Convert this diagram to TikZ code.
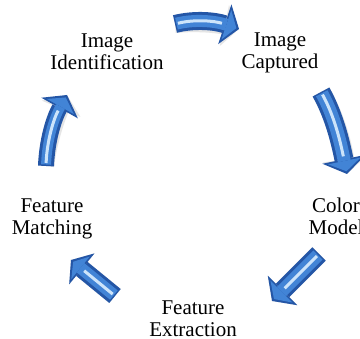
\documentclass[tikz,border=0pt]{standalone}
\usepackage{fontspec}
\setmainfont{Liberation Serif}
\usetikzlibrary{arrows.meta}
\definecolor{edgeblue}{RGB}{36,86,166}
\definecolor{midblue}{RGB}{66,132,214}
\definecolor{hiblue}{RGB}{205,228,250}
\newcommand{\bluearrow}[4]{% #1 shaft width, #2 head width, #3 head length, #4 path
  \pgfmathsetmacro\innershaft{#1-6}%
  \pgfmathsetmacro\innerhw{#2-11}%
  \pgfmathsetmacro\innerhl{#3-4.5}%
  \pgfmathsetmacro\hishort{#3+3}%
  \draw[black!45, opacity=0.22, line width=#1pt, shift={(2,3)},
        -{Triangle[width=#2pt,length=#3pt,line width=0pt]}] #4;
  \draw[edgeblue, line width=#1pt,
        -{Triangle[width=#2pt,length=#3pt,line width=0pt]}] #4;
  \draw[midblue, line width=\innershaft pt, shorten >=2.8pt, shorten <=1.5pt,
        -{Triangle[width=\innerhw pt,length=\innerhl pt,line width=0pt]}] #4;
  \draw[hiblue, line width=3pt, shorten >=\hishort pt, shorten <=3pt] #4;
}
\begin{document}
\begin{tikzpicture}[x=1pt,y=-1pt,
  lbl/.style={inner sep=0pt, anchor=base, font=\fontsize{21}{21.5}\selectfont}]
\useasboundingbox (0,0) rectangle (360,339);
\clip (0,0) rectangle (360,339);
\fill[white] (0,0) rectangle (360,339);

% labels
\node[lbl] (ident) at (107,48) {\begin{tabular}[t]{@{}c@{}}Image\\Identification\end{tabular}};
\node[lbl] (capt)  at (280,47) {\begin{tabular}[t]{@{}c@{}}Image\\Captured\end{tabular}};
\node[lbl] (color) at (336,213) {\begin{tabular}[t]{@{}c@{}}Color\\Model\end{tabular}};
\node[lbl] (match) at (52,213) {\begin{tabular}[t]{@{}c@{}}Feature\\Matching\end{tabular}};
\node[lbl] (extr)  at (193,315) {\begin{tabular}[t]{@{}c@{}}Feature\\Extraction\end{tabular}};

% arrow end points
\coordinate (a1s) at (175,24);  \coordinate (a1e) at (239,29);
\coordinate (a2s) at (321,92);  \coordinate (a2e) at (347,174);
\coordinate (a3s) at (319,254); \coordinate (a3e) at (272,301);
\coordinate (a4s) at (115,296); \coordinate (a4e) at (71,260);
\coordinate (a5s) at (46,166);  \coordinate (a5e) at (67,95);

\bluearrow{18}{42}{15}{(a1s) .. controls (195,19) and (215,21) .. (a1e)}
\bluearrow{19}{44}{15}{(a2s) .. controls (335,117) and (341,145) .. (a2e)}
\bluearrow{19}{42}{15}{(a3s) -- (a3e)}
\bluearrow{18}{40}{14}{(a4s) -- (a4e)}
\bluearrow{16}{42}{15}{(a5s) .. controls (47,140) and (54,118) .. (a5e)}
\end{tikzpicture}
\end{document}
